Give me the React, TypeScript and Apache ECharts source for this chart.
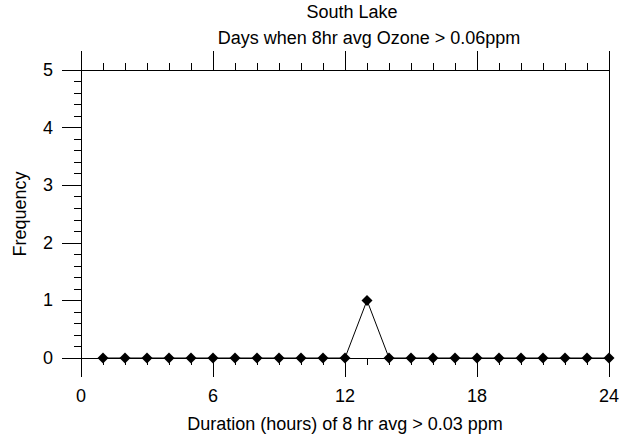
import React, { useEffect, useRef } from "react";
import * as echarts from "echarts";

const titleLine1 = "South Lake";
const titleLine2 = "Days when 8hr avg Ozone > 0.06ppm";
const xAxisName = "Duration (hours) of 8 hr avg > 0.03 ppm";
const yAxisName = "Frequency";

const durations = [1, 2, 3, 4, 5, 6, 7, 8, 9, 10, 11, 12, 13, 14, 15, 16, 17, 18, 19, 20, 21, 22, 23, 24];
const frequency = [0, 0, 0, 0, 0, 0, 0, 0, 0, 0, 0, 0, 1, 0, 0, 0, 0, 0, 0, 0, 0, 0, 0, 0];

const FONT = "Liberation Sans, Arial, sans-serif";
const FS = 18;

export default function App() {
  const ref = useRef<HTMLDivElement>(null);
  useEffect(() => {
    if (!ref.current) return;
    const chart = echarts.init(ref.current, undefined, { renderer: "svg" });
    const axisLine = { show: true, onZero: false, lineStyle: { color: "#000", width: 1 } };
    chart.setOption({
      animation: false,
      backgroundColor: "#fff",
      textStyle: { fontFamily: FONT },
      graphic: [
        {
          type: "text",
          x: 352,
          y: 12,
          style: {
            text: titleLine1,
            font: `${FS}px ${FONT}`,
            fill: "#000",
            textAlign: "center",
            textVerticalAlign: "middle",
          },
        },
        {
          type: "text",
          x: 369,
          y: 38,
          style: {
            text: titleLine2,
            font: `${FS}px ${FONT}`,
            fill: "#000",
            textAlign: "center",
            textVerticalAlign: "middle",
          },
        },
      ],
      grid: { left: 81, top: 70, width: 528, height: 288, containLabel: false },
      xAxis: [
        {
          type: "value",
          position: "bottom",
          min: 0,
          max: 24,
          interval: 6,
          name: xAxisName,
          nameLocation: "middle",
          nameGap: 57,
          nameTextStyle: { fontSize: FS, color: "#000", fontFamily: FONT },
          axisLine,
          axisTick: { show: true, inside: false, length: 19, lineStyle: { color: "#000" } },
          minorTick: { show: true, splitNumber: 6, length: 7, lineStyle: { color: "#000" } },
          axisLabel: { show: true, margin: 29, fontSize: FS, color: "#000", fontFamily: FONT },
          splitLine: { show: false },
        },
        {
          type: "value",
          position: "top",
          min: 0,
          max: 24,
          interval: 6,
          axisLine,
          axisTick: { show: true, inside: false, length: 19, lineStyle: { color: "#000" } },
          minorTick: { show: true, splitNumber: 6, length: 7, lineStyle: { color: "#000" } },
          axisLabel: { show: false },
          splitLine: { show: false },
        },
      ],
      yAxis: [
        {
          type: "value",
          position: "left",
          min: 0,
          max: 5,
          interval: 1,
          name: yAxisName,
          nameLocation: "middle",
          nameGap: 52,
          nameTextStyle: { fontSize: FS, color: "#000", fontFamily: FONT },
          axisLine,
          axisTick: { show: true, inside: false, length: 19, lineStyle: { color: "#000" } },
          minorTick: { show: true, splitNumber: 5, length: 7, lineStyle: { color: "#000" } },
          axisLabel: { show: true, margin: 28, fontSize: FS, color: "#000", fontFamily: FONT },
          splitLine: { show: false },
        },
        {
          type: "value",
          position: "right",
          min: 0,
          max: 5,
          interval: 1,
          axisLine,
          axisTick: { show: false },
          axisLabel: { show: false },
          splitLine: { show: false },
        },
      ],
      series: [
        {
          type: "line",
          xAxisIndex: 0,
          yAxisIndex: 0,
          data: durations.map((d, i) => [d, frequency[i]]),
          symbol: "diamond",
          symbolSize: 11,
          showAllSymbol: true,
          lineStyle: { color: "#000", width: 1 },
          itemStyle: { color: "#000" },
          clip: false,
        },
      ],
    });
    return () => chart.dispose();
  }, []);
  return <div ref={ref} style={{ width: 634, height: 441, position: "absolute", left: 0, top: 0 }} />;
}
